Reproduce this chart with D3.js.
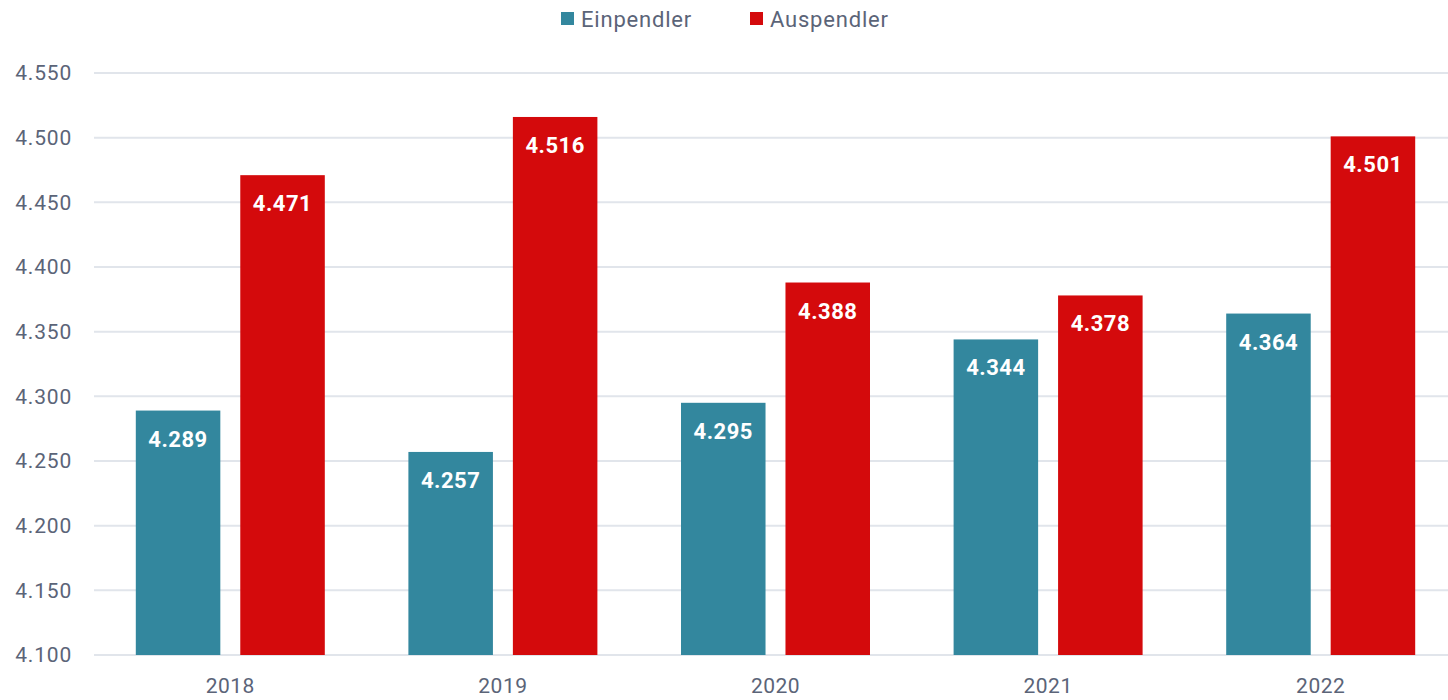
<!DOCTYPE html>
<html><head><meta charset="utf-8">
<script src="https://cdn.jsdelivr.net/npm/d3@7"></script>
<style>body{margin:0;background:#fff;} svg{display:block;font-family:Roboto, "Noto Sans", sans-serif;}</style>
</head><body>
<svg id="chart" width="1448" height="700"></svg>
<script>
const categories = ["2018","2019","2020","2021","2022"];
const einpendler = [4289, 4257, 4295, 4344, 4364];
const auspendler = [4471, 4516, 4388, 4378, 4501];
const seriesNames = ["Einpendler","Auspendler"];
const seriesColors = ["#33879e","#d40a0c"];
const yTicks = [4100,4150,4200,4250,4300,4350,4400,4450,4500,4550];

const svg = d3.select("#chart");
const W = 1448, H = 700;
const m = {left: 94, right: 0, top: 73, bottom: 45};
const x = d3.scaleBand().domain(categories).range([94, 1457]).paddingInner(0).paddingOuter(0);
const y = d3.scaleLinear().domain([4100, 4550]).range([H - m.bottom, m.top]);
const fmt = d3.formatLocale({decimal: ",", thousands: ".", grouping: [3], currency: ["", "€"]}).format(",d");
const textColor = "#5b6478";

// gridlines
svg.append("g").selectAll("line").data(yTicks).join("line")
  .attr("x1", m.left).attr("x2", W - m.right)
  .attr("y1", d => y(d)).attr("y2", d => y(d))
  .attr("stroke", "#e1e5eb").attr("stroke-width", 2);

// y axis labels
const yAxis = d3.axisLeft(y).tickValues(yTicks).tickFormat(fmt).tickSize(0).tickPadding(0);
const yg = svg.append("g").attr("transform", `translate(72,0)`).call(yAxis);
yg.select(".domain").remove();
yg.selectAll("text").attr("fill", textColor).attr("font-size", 21).attr("letter-spacing", 0.8).attr("font-family", "Roboto, sans-serif");

// x axis labels
const xAxis = d3.axisBottom(x).tickSize(0).tickPadding(0);
const xg = svg.append("g").attr("transform", `translate(0,${H - m.bottom + 23})`).call(xAxis);
xg.select(".domain").remove();
xg.selectAll("text").attr("fill", textColor).attr("font-size", 21).attr("letter-spacing", 0.5).attr("font-family", "Roboto, sans-serif");

// bars
const inner = d3.scaleBand().domain([0,1]).range([0, 189]).paddingInner(0.191);
const data = [einpendler, auspendler];
categories.forEach((c, i) => {
  const cx = x(c) + x.bandwidth()/2 - 94.5;
  data.forEach((s, k) => {
    const v = s[i];
    const bx = cx + inner(k);
    svg.append("rect")
      .attr("x", bx).attr("y", y(v))
      .attr("width", inner.bandwidth()).attr("height", y(4100) - y(v))
      .attr("fill", seriesColors[k]);
    svg.append("text")
      .attr("x", bx + inner.bandwidth()/2).attr("y", y(v) + 36)
      .attr("text-anchor", "middle").attr("fill", "#fff")
      .attr("font-size", 22).attr("font-weight", "bold").attr("letter-spacing", 0.5)
      .text(fmt(v));
  });
});

// legend
const legendX = [561, 750];
seriesNames.forEach((n, k) => {
  svg.append("rect").attr("x", legendX[k]).attr("y", 12).attr("width", 13).attr("height", 13).attr("fill", seriesColors[k]);
  svg.append("text").attr("x", legendX[k] + 20).attr("y", 27).attr("fill", textColor).attr("font-size", 22).attr("letter-spacing", 0.8).text(n);
});
</script>
</body></html>
